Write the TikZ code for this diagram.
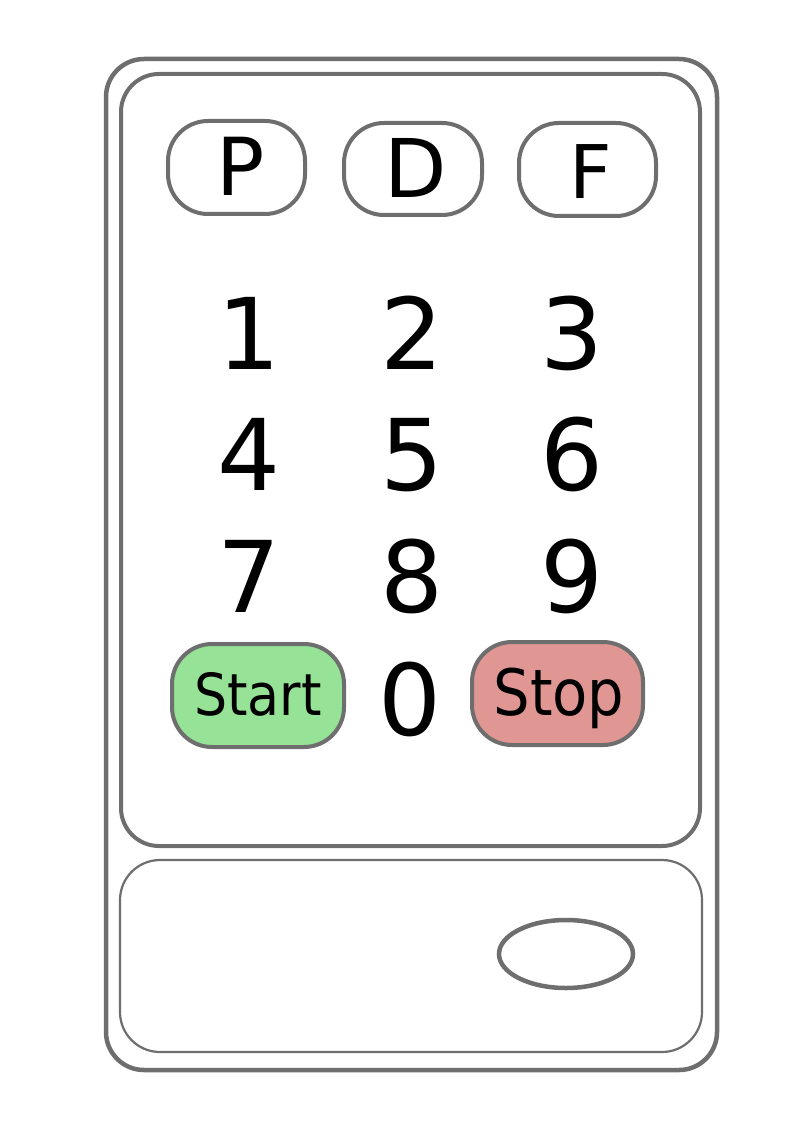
\documentclass[tikz,border=0pt]{standalone}
\usepackage{fontspec}
\setmainfont{DejaVu Sans}
\newfontfamily\condfont{DejaVu Sans Condensed}
\usetikzlibrary{shapes.geometric}
\definecolor{edge}{RGB}{110,110,110}
\definecolor{startgreen}{RGB}{150,226,150}
\definecolor{stopred}{RGB}{224,150,146}
\tikzset{
  btn/.style={draw=edge, line width=4pt, rounded corners=40pt, inner sep=0pt},
  digit/.style={anchor=base, inner sep=0pt, font=\fontsize{99}{99}\selectfont},
  letter/.style={anchor=base, inner sep=0pt},
  label/.style={anchor=base, inner sep=0pt, font=\condfont\fontsize{58}{58}\selectfont},
}
\begin{document}
\begin{tikzpicture}[x=1pt,y=-1pt]
\useasboundingbox (0,0) rectangle (794,1123);
% case
\draw[edge, line width=4.5pt, rounded corners=38pt] (106,59) rectangle (717,1070);
\draw[edge, line width=4pt, rounded corners=38pt] (121,74) rectangle (700,846);
\draw[edge, line width=2.2pt, rounded corners=40pt] (120,860) rectangle (702,1052);
\node[draw=edge, line width=4.5pt, ellipse, minimum width=134pt, minimum height=68pt, inner sep=0pt] (slot) at (566,954) {};
% top buttons
\node[btn, minimum width=137pt, minimum height=93pt] (Pb) at (236.5,167.5) {};
\node[btn, minimum width=138pt, minimum height=92pt] (Db) at (413,169) {};
\node[btn, minimum width=137pt, minimum height=93pt] (Fb) at (587.5,169.5) {};
\node[letter, font=\fontsize{80}{80}\selectfont] (P) at (241,196) {P};
\node[letter, font=\fontsize{81}{81}\selectfont] (D) at (416,198) {D};
\node[letter, font=\fontsize{74}{74}\selectfont] (F) at (591,199) {F};
% digits
\node[digit] (n1) at (249,369) {1};
\node[digit] (n2) at (412,369) {2};
\node[digit] (n3) at (572,369) {3};
\node[digit] (n4) at (249,490) {4};
\node[digit] (n5) at (412,490) {5};
\node[digit] (n6) at (572,490) {6};
\node[digit] (n7) at (249,612) {7};
\node[digit] (n8) at (412,612) {8};
\node[digit] (n9) at (572,612) {9};
\node[digit] (n0) at (410,735) {0};
% start / stop
\node[btn, fill=startgreen, minimum width=172pt, minimum height=103pt] (startb) at (258,695.5) {};
\node[btn, fill=stopred, minimum width=171pt, minimum height=103pt] (stopb) at (557.5,693.5) {};
\node[label] (startt) at (258,715) {Start};
\node[label, font=\condfont\fontsize{64}{64}\selectfont] (stopt) at (559,715) {Stop};
\end{tikzpicture}
\end{document}
